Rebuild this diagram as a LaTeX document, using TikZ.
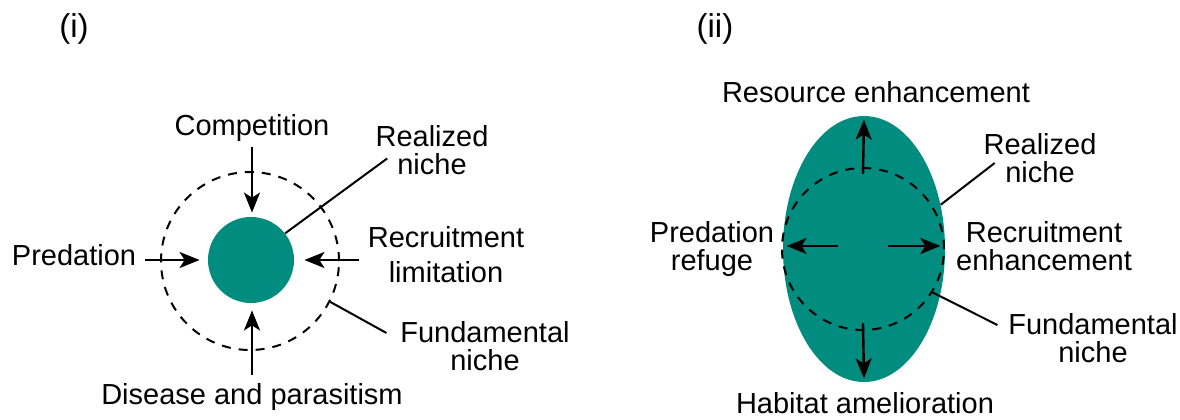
\documentclass[tikz,border=0pt]{standalone}
\usepackage{fontspec}
\setmainfont{Liberation Sans}
\usetikzlibrary{arrows.meta,shapes.geometric}
\definecolor{nichegreen}{RGB}{0,140,127}
\tikzset{
  lbl/.style={inner sep=0pt,align=center,font=\fontsize{14.5}{14}\selectfont},
  panel/.style={inner sep=0pt,font=\fontsize{16.5}{16}\selectfont},
  arr/.style={line width=1.2pt,-{Stealth[length=10pt,width=8pt,inset=2.5pt]}},
  lead/.style={line width=1pt},
  fund/.style={circle,draw,line width=1pt,dash pattern=on 4.5pt off 4pt,inner sep=0pt},
}
\begin{document}
\begin{tikzpicture}[x=0.5pt,y=-0.5pt]
\useasboundingbox (0,0) rectangle (1180,419);
\begin{scope}
\node[circle,fill=nichegreen,minimum size=43pt,inner sep=0pt] (rn1) at (251,260) {};
\node[fund,minimum size=89pt] (fn1) at (250,261) {};
\node[panel] (lab1) at (74,29) {(i)};
\node[lbl,anchor=base] (comp) at (252,135) {Competition};
\node[lbl,anchor=base] (pred) at (74,265) {Predation};
\node[lbl,anchor=base] (dis) at (252,404) {Disease and parasitism};
\node[lbl] (rl1) at (432,150.5) {Realized\\niche};
\node[lbl] (rc1) at (446,255) {Recruitment\\[3.5pt]limitation};
\node[lbl] (fl1) at (485,346.5) {Fundamental\\niche};
\draw[arr,shorten <=3pt,shorten >=2pt] (comp.south) -- (comp.south |- rn1.north);
\draw[arr,shorten <=4.5pt,shorten >=4pt] (pred.east |- rn1) -- (rn1.west);
\draw[arr,shorten <=4pt,shorten >=5pt] (rc1.west |- rn1) -- (rn1.east);
\draw[arr,shorten <=4pt,shorten >=3.5pt] (dis.north) -- (dis.north |- rn1.south);
\draw[lead] (rn1.38) -- ([shift={(6pt,-4pt)}]rl1.west)
  (fn1.-27) -- ([shift={(-6.75pt,6.75pt)}]fl1.west);
\end{scope}
\begin{scope}
\node[ellipse,fill=nichegreen,minimum width=81pt,minimum height=133pt,inner sep=0pt] (rn2) at (864,249) {};
\node[fund,minimum size=81pt] (fn2) at (863,249) {};
\node[panel] (lab2) at (715,29) {(ii)};
\node[lbl,anchor=base] (res) at (876,102) {Resource enhancement};
\node[lbl,anchor=base] (hab) at (865,413) {Habitat amelioration};
\node[lbl] (pr) at (712,248.5) {Predation\\refuge};
\node[lbl] (re) at (1044,246.5) {Recruitment\\enhancement};
\node[lbl] (rl2) at (1040,158.5) {Realized\\niche};
\node[lbl] (fl2) at (1093,338.5) {Fundamental\\niche};
\draw[arr] ([yshift=-3.5pt]fn2.north) -- ([yshift=-2pt]rn2.north);
\draw[arr] ([yshift=4pt]fn2.south) -- ([yshift=2pt]rn2.south);
\draw[arr] ([shift={(-13pt,1.5pt)}]rn2.center) -- ([shift={(2pt,1.5pt)}]rn2.west);
\draw[arr] ([shift={(12pt,1.5pt)}]rn2.center) -- ([shift={(-2.5pt,1.5pt)}]rn2.east);
\draw[lead] (rn2.30) -- ([shift={(5.75pt,-2.25pt)}]rl2.west)
  (fn2.-32) -- ([shift={(-5.25pt,6.75pt)}]fl2.west);
\end{scope}
\end{tikzpicture}
\end{document}
